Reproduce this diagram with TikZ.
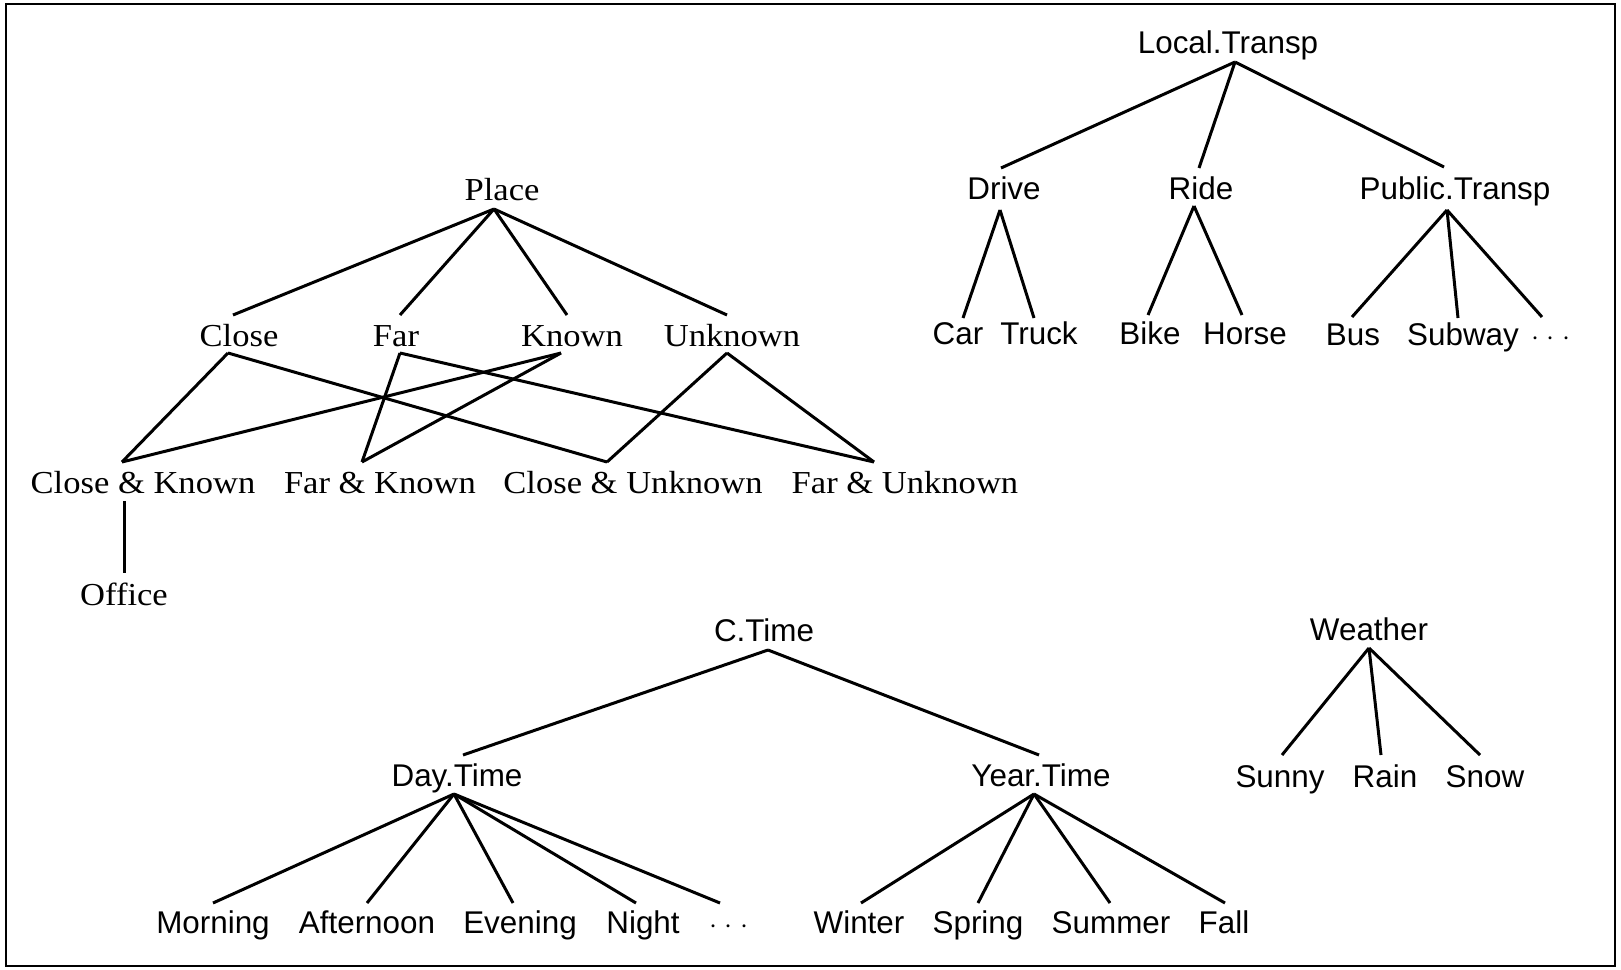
\documentclass[tikz,border=0pt]{standalone}
\usepackage{fontspec}
\setsansfont{Liberation Sans}
\newfontfamily\serfont[FakeStretch=1.08]{Liberation Serif}
\usetikzlibrary{calc}
\tikzset{
  sernode/.style={font=\serfont\fontsize{16}{18}\selectfont, inner sep=0pt, anchor=base},
  sansnode/.style={font=\sffamily\fontsize{15.7}{18}\selectfont, inner sep=0pt, anchor=base},
  edge/.style={line width=1.5pt},
  frame/.style={line width=1pt}
}
\newcommand{\mydots}{${\cdot}\;{\cdot}\;{\cdot}$}
\begin{document}
\begin{tikzpicture}[x=0.5pt,y=-0.5pt]
\useasboundingbox (0,0) rectangle (1621,969);
\draw[frame] (6,4) rectangle (1615,966);

% Place lattice
\node[sernode] (place) at (502,200) {Place};
\node[sernode] (close) at (239,346) {Close};
\node[sernode] (far) at (396,346) {Far};
\node[sernode] (known) at (572,346) {Known};
\node[sernode] (unknown) at (732,346) {Unknown};
\node[sernode] (ck) at (143,493) {Close \& Known};
\node[sernode] (fk) at (380,493) {Far \& Known};
\node[sernode] (cu) at (633,493) {Close \& Unknown};
\node[sernode] (fu) at (905,493) {Far \& Unknown};
\node[sernode] (office) at (124,605) {Office};

\draw[edge] ($(place.base)+(-8,9)$) -- ($(close.base)+(-6,-31)$);
\draw[edge] ($(place.base)+(-8,9)$) -- ($(far.base)+(4,-31)$);
\draw[edge] ($(place.base)+(-8,9)$) -- ($(known.base)+(-5,-31)$);
\draw[edge] ($(place.base)+(-8,9)$) -- ($(unknown.base)+(-5,-31)$);
\draw[edge] ($(close.base)+(-11,7)$) -- ($(ck.base)+(-21,-31)$);
\draw[edge] ($(close.base)+(-11,7)$) -- ($(cu.base)+(-26,-31)$);
\draw[edge] ($(far.base)+(4,7)$) -- ($(fk.base)+(-18,-31)$);
\draw[edge] ($(far.base)+(4,7)$) -- ($(fu.base)+(-31,-31)$);
\draw[edge] ($(known.base)+(-11,7)$) -- ($(ck.base)+(-21,-31)$);
\draw[edge] ($(known.base)+(-11,7)$) -- ($(fk.base)+(-18,-31)$);
\draw[edge] ($(unknown.base)+(-5,7)$) -- ($(cu.base)+(-26,-31)$);
\draw[edge] ($(unknown.base)+(-5,7)$) -- ($(fu.base)+(-31,-31)$);
\draw[edge] ($(ck.base)+(-19,8)$) -- ($(office.base)+(0,-32)$);

% Local.Transp tree
\node[sansnode] (lt) at (1228,53) {Local.Transp};
\node[sansnode] (drive) at (1004,199) {Drive};
\node[sansnode] (ride) at (1201,199) {Ride};
\node[sansnode] (pub) at (1455,199) {Public.Transp};
\node[sansnode] (car) at (958,344) {Car};
\node[sansnode] (truck) at (1039,344) {Truck};
\node[sansnode] (bike) at (1150,344) {Bike};
\node[sansnode] (horse) at (1245,344) {Horse};
\node[sansnode] (bus) at (1353,345) {Bus};
\node[sansnode] (subway) at (1463,345) {Subway};
\node[sansnode] (dotsa) at (1551,345) {\mydots};

\draw[edge] ($(lt.base)+(7,9)$) -- ($(drive.base)+(-3,-31)$);
\draw[edge] ($(lt.base)+(7,9)$) -- ($(ride.base)+(-2,-31)$);
\draw[edge] ($(lt.base)+(7,9)$) -- ($(pub.base)+(-11,-32)$);
\draw[edge] ($(drive.base)+(-4,11)$) -- ($(car.base)+(5,-26)$);
\draw[edge] ($(drive.base)+(-4,11)$) -- ($(truck.base)+(-5,-26)$);
\draw[edge] ($(ride.base)+(-7,7)$) -- ($(bike.base)+(-2,-29)$);
\draw[edge] ($(ride.base)+(-7,7)$) -- ($(horse.base)+(-3,-29)$);
\draw[edge] ($(pub.base)+(-8,11)$) -- ($(bus.base)+(-1,-28)$);
\draw[edge] ($(pub.base)+(-8,11)$) -- ($(subway.base)+(-5,-27)$);
\draw[edge] ($(pub.base)+(-8,11)$) -- ($(dotsa.base)+(-9,-28)$);

% C.Time tree
\node[sansnode] (ctime) at (764,641) {C.Time};
\node[sansnode] (day) at (457,786) {Day.Time};
\node[sansnode] (year) at (1041,786) {Year.Time};
\node[sansnode] (morning) at (213,933) {Morning};
\node[sansnode] (afternoon) at (367,933) {Afternoon};
\node[sansnode] (evening) at (520,933) {Evening};
\node[sansnode] (night) at (643,933) {Night};
\node[sansnode] (dotsb) at (729,933) {\mydots};
\node[sansnode] (winter) at (859,933) {Winter};
\node[sansnode] (spring) at (978,933) {Spring};
\node[sansnode] (summer) at (1111,933) {Summer};
\node[sansnode] (fall) at (1224,933) {Fall};

\draw[edge] ($(ctime.base)+(4,9)$) -- ($(day.base)+(6,-31)$);
\draw[edge] ($(ctime.base)+(4,9)$) -- ($(year.base)+(-2,-31)$);
\draw[edge] ($(day.base)+(-3,8)$) -- ($(morning.base)+(0,-30)$);
\draw[edge] ($(day.base)+(-3,8)$) -- ($(afternoon.base)+(0,-30)$);
\draw[edge] ($(day.base)+(-3,8)$) -- ($(evening.base)+(-7,-30)$);
\draw[edge] ($(day.base)+(-3,8)$) -- ($(night.base)+(-7,-30)$);
\draw[edge] ($(day.base)+(-3,8)$) -- ($(dotsb.base)+(-9,-30)$);
\draw[edge] ($(year.base)+(-7,8)$) -- ($(winter.base)+(2,-30)$);
\draw[edge] ($(year.base)+(-7,8)$) -- ($(spring.base)+(0,-30)$);
\draw[edge] ($(year.base)+(-7,8)$) -- ($(summer.base)+(-1,-30)$);
\draw[edge] ($(year.base)+(-7,8)$) -- ($(fall.base)+(1,-30)$);

% Weather tree
\node[sansnode] (weather) at (1369,640) {Weather};
\node[sansnode] (sunny) at (1280,787) {Sunny};
\node[sansnode] (rain) at (1385,787) {Rain};
\node[sansnode] (snow) at (1485,787) {Snow};

\draw[edge] ($(weather.base)+(0,8)$) -- ($(sunny.base)+(2,-32)$);
\draw[edge] ($(weather.base)+(0,8)$) -- ($(rain.base)+(-4,-32)$);
\draw[edge] ($(weather.base)+(0,8)$) -- ($(snow.base)+(-5,-32)$);
\end{tikzpicture}
\end{document}
